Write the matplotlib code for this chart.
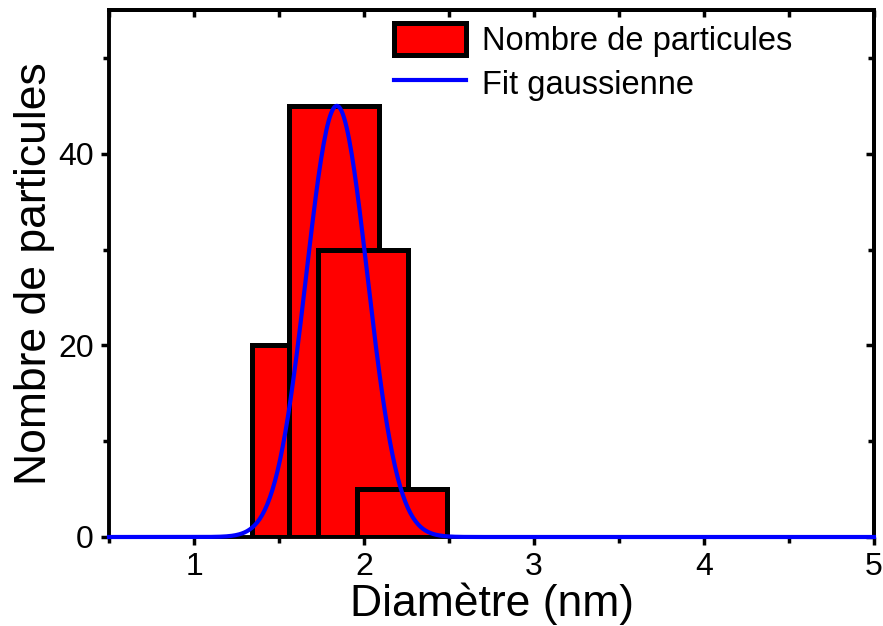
import numpy as np
import matplotlib
matplotlib.use("Agg")
import matplotlib.pyplot as plt
from matplotlib.patches import Patch
from matplotlib.lines import Line2D

plt.rcParams['font.family'] = ['Liberation Sans', 'DejaVu Sans']

# histogramme (bords gauches des classes, nombre de particules)
bin_left = [1.34, 1.56, 1.73, 1.96]
counts = [20, 45, 30, 5]
bin_width = 0.53

# parametres du fit gaussien
fit_center = 1.84
fit_sigma = 0.18
fit_amplitude = 45

xmin, xmax = 0.5, 5.0

fig = plt.figure(figsize=(8.83, 6.26), dpi=100)
ax = fig.add_axes([109 / 883, 89 / 626, (874 - 109) / 883, (537 - 10) / 626])

ax.bar(bin_left, counts, width=bin_width, align='edge', color='#ff0000',
       edgecolor='black', linewidth=3.6, zorder=2)

xf = np.linspace(xmin, xmax, 600)
yf = fit_amplitude * np.exp(-(xf - fit_center) ** 2 / (2 * fit_sigma ** 2))
ax.plot(xf, yf, color='#0000ff', lw=3, zorder=4, clip_on=False)

ax.set_xlim(xmin, xmax)
ax.set_ylim(0, 55)
ax.set_xticks([1, 2, 3, 4, 5])
ax.set_xticks(np.arange(0.5, 5.01, 0.5), minor=True)
ax.set_yticks([0, 20, 40])
ax.set_yticks([10, 30, 50], minor=True)

for s in ax.spines.values():
    s.set_linewidth(2.8)
ax.tick_params(which='major', direction='out', length=6, width=2.5,
               labelsize=23, pad=5)
ax.tick_params(which='minor', direction='out', length=4, width=2.5)

# ticks interieurs en haut et a droite
top = ax.secondary_xaxis('top')
top.set_xticks([1, 2, 3, 4, 5])
top.set_xticks(np.arange(0.5, 5.01, 0.5), minor=True)
top.tick_params(which='both', direction='in', length=5, width=2.5, labeltop=False)
top.spines['top'].set_linewidth(2.8)
right = ax.secondary_yaxis('right')
right.set_yticks([0, 20, 40])
right.set_yticks([10, 30, 50], minor=True)
right.tick_params(which='major', direction='in', length=6, width=2.5, labelright=False)
right.tick_params(which='minor', direction='in', length=4, width=2.5)
right.spines['right'].set_linewidth(2.8)

ax.set_xlabel('Diamètre (nm)', fontsize=32, labelpad=0)
ax.set_ylabel('Nombre de particules', fontsize=32, labelpad=2)

handles = [Patch(facecolor='#ff0000', edgecolor='black', linewidth=3.6),
           Line2D([], [], color='#0000ff', lw=3)]
ax.legend(handles, ['Nombre de particules', 'Fit gaussienne'],
          loc='upper left', bbox_to_anchor=(0.366, 0.985), frameon=False,
          fontsize=23.5, handlelength=2.2, handleheight=1.15,
          handletextpad=0.5, labelspacing=0.3, borderpad=0.15, borderaxespad=0)

fig.savefig('out.png', dpi=100)
